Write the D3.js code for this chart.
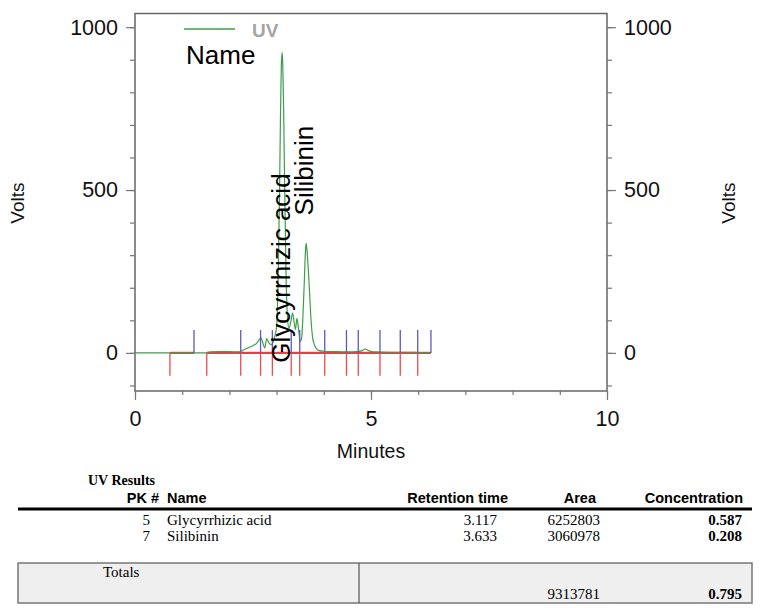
<!DOCTYPE html>
<html>
<head>
<meta charset="utf-8">
<script src="https://cdn.jsdelivr.net/npm/d3@7"></script>
<style>
  body { margin: 0; background: #fff; }
  svg { display: block; }
</style>
</head>
<body>
<div id="viz"></div>
<script>
// trace (minutes, volts)
const timeMin = [0, 0.5, 1.0, 1.5, 1.6, 1.8, 2.0, 2.2, 2.3, 2.4, 2.5, 2.58, 2.63, 2.67, 2.71, 2.75, 2.79, 2.84, 2.9, 2.95,
  3.0, 3.03, 3.06, 3.08, 3.1, 3.117, 3.13, 3.15, 3.17, 3.2, 3.23, 3.26, 3.3, 3.34, 3.37, 3.4, 3.43, 3.46, 3.5,
  3.53, 3.56, 3.59, 3.61, 3.625, 3.64, 3.67, 3.7, 3.73, 3.76, 3.8, 3.85, 3.9, 4.0, 4.2, 4.5, 4.7, 4.8, 4.88, 4.95,
  5.05, 5.4, 5.8, 6.0, 6.27];
const volts = [0, 0, 0, 0, 3, 4, 4, 3, 9, 16, 22, 30, 40, 46, 30, 15, 44, 30, 25, 45,
  80, 205, 470, 700, 884, 923, 888, 740, 515, 243, 110, 75, 95, 122, 95, 72, 106, 80, 35,
  45, 120, 230, 310, 336, 320, 260, 180, 100, 50, 25, 12, 7, 5, 4, 3, 4, 6, 12, 7,
  3, 2, 2, 1, 0];

// integration events
const peakStarts = [0.74, 1.52, 2.24, 2.66, 2.91, 3.31, 3.49, 4.02, 4.48, 4.73, 5.19, 5.62, 5.99];
const peakEnds = [1.25, 2.24, 2.66, 2.91, 3.31, 3.49, 4.02, 4.48, 4.73, 5.19, 5.62, 5.99, 6.27];

// named peaks
const peakNames = ['Glycyrrhizic acid', 'Silibinin'];
const peakTimes = [3.117, 3.633];
const peakHeights = [923, 336];

const yTicks = [0, 500, 1000];
const xTicks = [0, 5, 10];

// results table
const pkNums = ['5', '7'];
const resNames = ['Glycyrrhizic acid', 'Silibinin'];
const retTimes = ['3.117', '3.633'];
const areas = ['6252803', '3060978'];
const concs = ['0.587', '0.208'];
const totalArea = '9313781';
const totalConc = '0.795';

const width = 771;
const height = 611;
const plot = { left: 135, right: 607, top: 13.5, bottom: 391 };

const svg = d3.select('#viz').append('svg')
  .attr('width', width)
  .attr('height', height);

const sans = 'Liberation Sans, Arial, sans-serif';
const serif = 'Liberation Serif, Times New Roman, serif';

const x = d3.scaleLinear().domain([0, 10]).range([plot.left, plot.right]);
const y = d3.scaleLinear().domain([-117, 1042]).range([plot.bottom, plot.top]);

// frame
svg.append('rect')
  .attr('x', plot.left).attr('y', plot.top)
  .attr('width', plot.right - plot.left).attr('height', plot.bottom - plot.top)
  .attr('fill', 'none').attr('stroke', '#666').attr('stroke-width', 1.5);

// axes: minor then major ticks
function styleAxis(g) {
  g.select('.domain').remove();
  g.selectAll('line').attr('stroke', '#777').attr('stroke-width', 1.2);
  g.selectAll('text').attr('font-family', sans).attr('font-size', 21.5).attr('fill', '#111');
}

const minorY = d3.range(-100, 1001, 100);
const fmt = d3.format('d');
svg.append('g').attr('transform', `translate(${plot.left},0)`)
  .call(d3.axisLeft(y).tickValues(minorY).tickSize(5).tickFormat(''))
  .call(styleAxis);
svg.append('g').attr('transform', `translate(${plot.left},0)`)
  .call(d3.axisLeft(y).tickValues(yTicks).tickSize(9).tickPadding(8).tickFormat(fmt))
  .call(styleAxis);
svg.append('g').attr('transform', `translate(${plot.right},0)`)
  .call(d3.axisRight(y).tickValues(minorY).tickSize(5).tickFormat(''))
  .call(styleAxis);
svg.append('g').attr('transform', `translate(${plot.right},0)`)
  .call(d3.axisRight(y).tickValues(yTicks).tickSize(9).tickPadding(8).tickFormat(fmt))
  .call(styleAxis);

svg.append('g').attr('transform', `translate(0,${plot.bottom})`)
  .call(d3.axisBottom(x).tickValues(d3.range(0, 11, 1)).tickSize(4).tickFormat(''))
  .call(styleAxis);
svg.append('g').attr('transform', `translate(0,${plot.bottom})`)
  .call(d3.axisBottom(x).tickValues(xTicks).tickSize(9).tickPadding(11).tickFormat(fmt))
  .call(styleAxis);

// axis titles
svg.append('text')
  .attr('transform', `translate(24,${y(460)}) rotate(-90)`)
  .attr('text-anchor', 'middle')
  .attr('font-family', sans).attr('font-size', 19).attr('fill', '#111')
  .text('Volts');
svg.append('text')
  .attr('transform', `translate(735,${y(460)}) rotate(-90)`)
  .attr('text-anchor', 'middle')
  .attr('font-family', sans).attr('font-size', 19).attr('fill', '#111')
  .text('Volts');
svg.append('text')
  .attr('x', x(5)).attr('y', 458)
  .attr('text-anchor', 'middle')
  .attr('font-family', sans).attr('font-size', 19.5).attr('fill', '#111')
  .text('Minutes');

// red baseline under the integrated segments
const segs = peakStarts.map((s, i) => [s, peakEnds[i]]);
svg.append('g').selectAll('line')
  .data(segs)
  .join('line')
  .attr('x1', d => x(d[0])).attr('x2', d => x(d[1]))
  .attr('y1', y(0)).attr('y2', y(0))
  .attr('stroke', '#ee3b3b').attr('stroke-width', 2.2);

// trace
const trace = timeMin.map((t, i) => ({ t: t, v: volts[i] }));
svg.append('path')
  .datum(trace)
  .attr('fill', 'none')
  .attr('stroke', '#3f9e4a')
  .attr('stroke-width', 1.2)
  .attr('d', d3.line().x(d => x(d.t)).y(d => y(d.v)).curve(d3.curveMonotoneX));

// start (red) / end (blue) event marks
svg.append('g').selectAll('line')
  .data(peakStarts)
  .join('line')
  .attr('x1', d => x(d)).attr('x2', d => x(d))
  .attr('y1', y(0)).attr('y2', y(-70))
  .attr('stroke', '#ee4a4a').attr('stroke-width', 1.3);
svg.append('g').selectAll('line')
  .data(peakEnds)
  .join('line')
  .attr('x1', d => x(d)).attr('x2', d => x(d))
  .attr('y1', y(0)).attr('y2', y(70))
  .attr('stroke', '#5a5abf').attr('stroke-width', 1.3);

// peak labels
const labelOffsetX = [8, 6.5];
const labelBaseV = [-30, peakHeights[1] + 86];
svg.append('g').selectAll('text')
  .data(peakNames)
  .join('text')
  .attr('transform', (d, i) => `translate(${x(peakTimes[i]) + labelOffsetX[i]},${y(labelBaseV[i])}) rotate(-90)`)
  .attr('font-family', sans).attr('font-size', 26).attr('fill', '#000')
  .text(d => d);

// legend
svg.append('line')
  .attr('x1', 184).attr('x2', 235).attr('y1', 29).attr('y2', 29)
  .attr('stroke', '#3f9e4a').attr('stroke-width', 1.3);
svg.append('text')
  .attr('x', 252).attr('y', 37)
  .attr('font-family', sans).attr('font-size', 19).attr('font-weight', 'bold').attr('fill', '#a5a5a5')
  .text('UV');
svg.append('text')
  .attr('x', 186).attr('y', 64)
  .attr('font-family', sans).attr('font-size', 26).attr('fill', '#000')
  .text('Name');

// ---- results table ----
const tbl = svg.append('g');
tbl.append('text').attr('x', 155).attr('y', 485).attr('text-anchor', 'end')
  .attr('font-family', serif).attr('font-size', 14).attr('font-weight', 'bold').text('UV Results');

const headers = [
  { t: 'PK #', x: 159, a: 'end' },
  { t: 'Name', x: 167, a: 'start' },
  { t: 'Retention time', x: 508, a: 'end' },
  { t: 'Area', x: 596, a: 'end' },
  { t: 'Concentration', x: 743, a: 'end' }
];
tbl.selectAll('.hdr').data(headers).join('text')
  .attr('class', 'hdr')
  .attr('x', d => d.x).attr('y', 503).attr('text-anchor', d => d.a)
  .attr('font-family', sans).attr('font-size', 14.5).attr('font-weight', 'bold')
  .text(d => d.t);

tbl.append('line').attr('x1', 18).attr('x2', 752).attr('y1', 509).attr('y2', 509)
  .attr('stroke', '#000').attr('stroke-width', 3);

const rowY = [525, 541];
pkNums.forEach((p, i) => {
  const cells = [
    { t: p, x: 150, a: 'end', b: false },
    { t: resNames[i], x: 167, a: 'start', b: false },
    { t: retTimes[i], x: 497, a: 'end', b: false },
    { t: areas[i], x: 600, a: 'end', b: false },
    { t: concs[i], x: 742, a: 'end', b: true }
  ];
  tbl.selectAll('.r' + i).data(cells).join('text')
    .attr('class', 'r' + i)
    .attr('x', d => d.x).attr('y', rowY[i]).attr('text-anchor', d => d.a)
    .attr('font-family', serif).attr('font-size', 15)
    .attr('font-weight', d => d.b ? 'bold' : 'normal')
    .text(d => d.t);
});

tbl.append('rect').attr('x', 18).attr('y', 563).attr('width', 734).attr('height', 40)
  .attr('fill', '#efefef').attr('stroke', '#777').attr('stroke-width', 1.5);
tbl.append('line').attr('x1', 359).attr('x2', 359).attr('y1', 563).attr('y2', 603)
  .attr('stroke', '#555').attr('stroke-width', 1.2);
tbl.append('text').attr('x', 103).attr('y', 577)
  .attr('font-family', serif).attr('font-size', 15).text('Totals');
tbl.append('text').attr('x', 600).attr('y', 599).attr('text-anchor', 'end')
  .attr('font-family', serif).attr('font-size', 15).text(totalArea);
tbl.append('text').attr('x', 742).attr('y', 599).attr('text-anchor', 'end')
  .attr('font-family', serif).attr('font-size', 15).attr('font-weight', 'bold').text(totalConc);
</script>
</body>
</html>
